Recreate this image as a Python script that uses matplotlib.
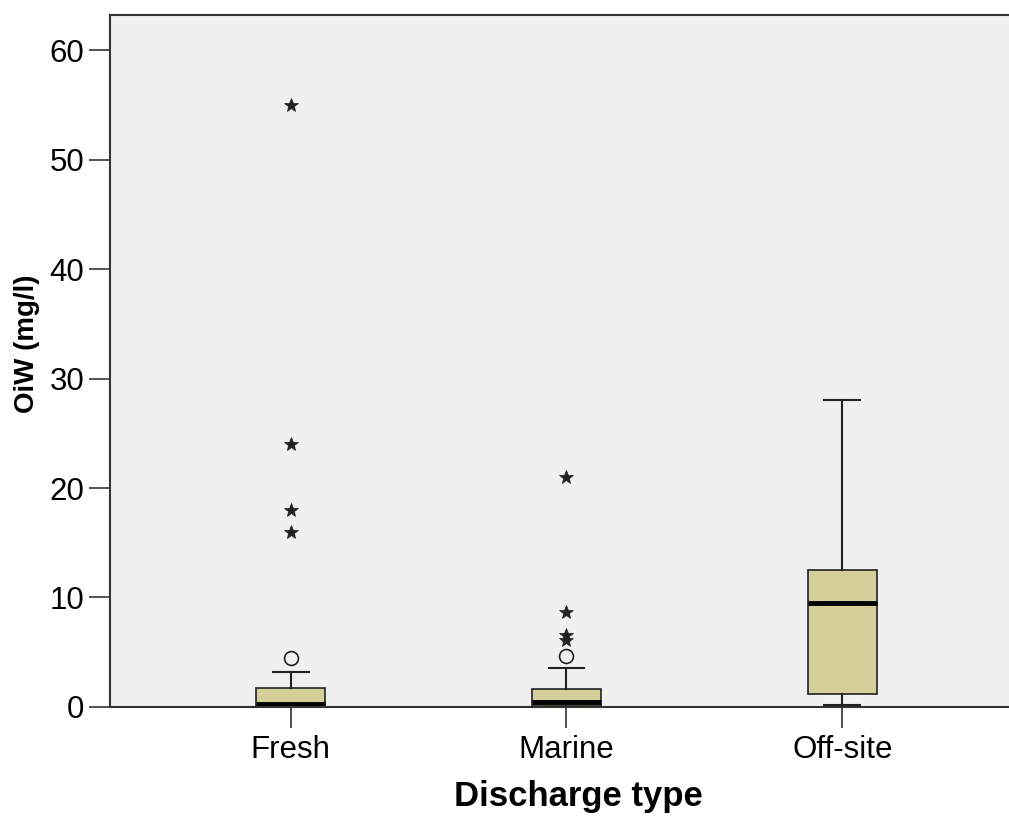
import matplotlib.pyplot as plt

# Box statistics (OiW, mg/l)
groups = ['Fresh', 'Marine', 'Off-site']
q1 = [0.0, 0.1, 1.2]
medians = [0.3, 0.5, 9.5]
q3 = [1.75, 1.65, 12.5]
whisker_low = [0.0, 0.0, 0.2]
whisker_high = [3.2, 3.6, 28.0]
# outliers (circles) and extremes (stars)
outliers = [[4.5], [4.7], []]
extremes = [[16.0, 18.0, 24.0, 55.0], [6.1, 6.6, 8.7, 21.0], []]

plt.rcParams['font.family'] = ['Liberation Sans', 'DejaVu Sans']

fig = plt.figure(figsize=(10.09, 8.18), dpi=100)
ax = fig.add_axes([0.109, 0.1357, 0.95, 0.846])
ax.set_facecolor('#F0F0F0')

stats = []
for i in range(len(groups)):
    stats.append({'label': groups[i], 'q1': q1[i], 'med': medians[i], 'q3': q3[i],
                  'whislo': whisker_low[i], 'whishi': whisker_high[i], 'fliers': []})

pos = [1, 2, 3]
ax.bxp(stats, positions=pos, widths=0.25, patch_artist=True, showfliers=False,
       boxprops=dict(facecolor='#D4CF98', edgecolor='#222222', linewidth=1.2),
       medianprops=dict(color='black', linewidth=3.5),
       whiskerprops=dict(color='#222222', linewidth=1.5),
       capprops=dict(color='#222222', linewidth=1.5),
       capwidths=0.13)

for i in range(len(groups)):
    ax.plot([pos[i]] * len(outliers[i]), outliers[i], 'o', markerfacecolor='none',
            markeredgecolor='#222222', markersize=10, markeredgewidth=1.2, clip_on=False)
    ax.plot([pos[i]] * len(extremes[i]), extremes[i], '*', color='#222222',
            markersize=10, markeredgewidth=0.5)

ax.set_xlim(0.345, 3.82)
ax.set_ylim(0, 63.2)
ax.set_yticks([0, 10, 20, 30, 40, 50, 60])
ax.set_xticks(pos)
ax.set_xticklabels(groups)
ax.tick_params(axis='both', labelsize=22.5, length=15, width=1.2, color='#333333')
ax.tick_params(axis='x', pad=5)
for s in ax.spines.values():
    s.set_color('#333333')
    s.set_linewidth(1.5)
ax.spines['right'].set_visible(False)

ax.set_ylabel('OiW (mg/l)', fontsize=20, fontweight='bold')
ax.set_xlabel('Discharge type', fontsize=25, fontweight='bold')
ax.yaxis.set_label_coords(-0.073, 0.525)
ax.xaxis.set_label_coords(0.489, -0.106)

fig.savefig('out.png', dpi=100)
